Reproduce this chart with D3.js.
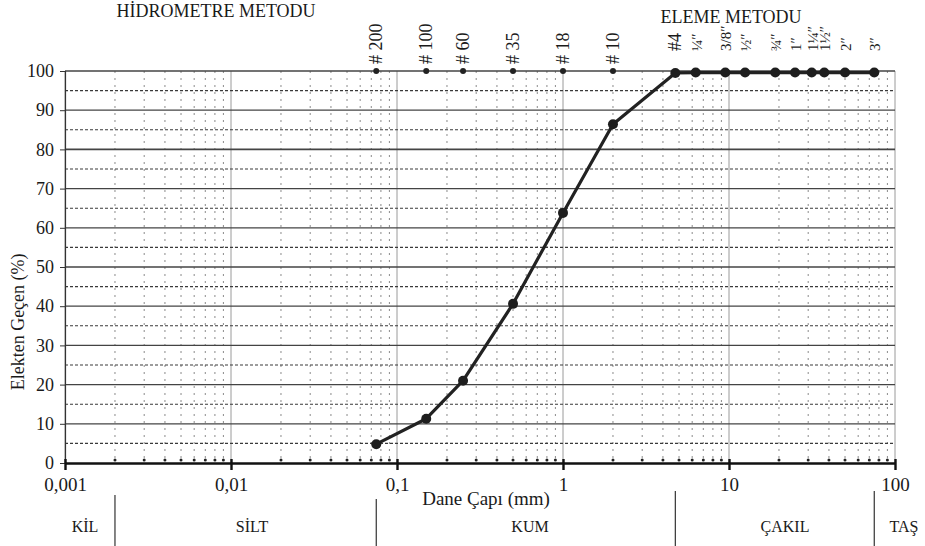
<!DOCTYPE html>
<html>
<head>
<meta charset="utf-8">
<script src="https://cdn.jsdelivr.net/npm/d3@7"></script>
<style>
  html, body { margin: 0; padding: 0; background: #fff; }
  svg { display: block; }
  svg text { font-family: "Liberation Serif", "Times New Roman", "DejaVu Serif", serif !important; fill: #1a1a1a; }
</style>
</head>
<body>
<svg id="chart" width="925" height="546"></svg>
<script>
// Sieve sizes (mm), their labels and percent passing
const sieveLabels = ["# 200", "# 100", "# 60", "# 35", "# 18", "# 10", "#4", "¼″", "3/8″", "½″", "¾″", "1″", "1¼″", "1½″", "2″", "3″"];
const sieveSizes  = [0.075, 0.15, 0.25, 0.5, 1.0, 2.0, 4.75, 6.3, 9.5, 12.5, 19, 25, 31.5, 37.5, 50, 75];
const passing     = [4.8, 11.3, 21.0, 40.6, 63.8, 86.4, 99.5, 99.6, 99.6, 99.6, 99.6, 99.6, 99.6, 99.6, 99.6, 99.6];

const xTickValues = [0.001, 0.01, 0.1, 1, 10, 100];
const xTickLabels = ["0,001", "0,01", "0,1", "1", "10", "100"];
const yTickValues = [0, 10, 20, 30, 40, 50, 60, 70, 80, 90, 100];

// Soil classes and their size limits (mm)
const soilClasses = ["KİL", "SİLT", "KUM", "ÇAKIL", "TAŞ"];
const soilLimits  = [0.001, 0.002, 0.075, 4.75, 75, 100];

const serif = '"Liberation Serif", "Times New Roman", "DejaVu Serif", serif';
const svg = d3.select("#chart").attr("font-family", serif);
const x = d3.scaleLog().domain([0.001, 100]).range([65, 895]);
const y = d3.scaleLinear().domain([0, 100]).range([463, 71]);

// minor log positions 2..9 in each decade
const minor = [];
for (let e = -3; e < 2; e++) for (let k = 2; k <= 9; k++) minor.push(k * Math.pow(10, e));

const grid = svg.append("g");
// vertical minor gridlines
grid.selectAll("line.vmin").data(minor).join("line")
  .attr("x1", d => x(d)).attr("x2", d => x(d))
  .attr("y1", y(100)).attr("y2", y(0))
  .attr("stroke", "#8a8a8a").attr("stroke-width", 1)
  .attr("stroke-dasharray", "2,5");
// vertical decade gridlines
grid.selectAll("line.vdec").data(xTickValues).join("line")
  .attr("x1", d => x(d)).attr("x2", d => x(d))
  .attr("y1", y(100)).attr("y2", y(0))
  .attr("stroke", "#9a9a9a").attr("stroke-width", 1);
// horizontal dotted lines at 5, 15, ...
grid.selectAll("line.hmin").data(d3.range(5, 100, 10)).join("line")
  .attr("x1", x(0.001)).attr("x2", x(100))
  .attr("y1", d => y(d)).attr("y2", d => y(d))
  .attr("stroke", "#3a3a3a").attr("stroke-width", 1.1)
  .attr("stroke-dasharray", "3,2");
// horizontal solid lines at 10, 20, ...
grid.selectAll("line.hmaj").data(yTickValues.slice(1)).join("line")
  .attr("x1", x(0.001)).attr("x2", x(100))
  .attr("y1", d => y(d)).attr("y2", d => y(d))
  .attr("stroke", "#444").attr("stroke-width", d => d === 80 ? 1.8 : 1.3);

// left axis
const yAxis = svg.append("g").attr("transform", `translate(${x(0.001)},0)`)
  .call(d3.axisLeft(y).tickValues(yTickValues).tickSize(5).tickPadding(6));
yAxis.attr("font-family", serif);
yAxis.select(".domain").attr("stroke", "#333").attr("stroke-width", 1.2);
yAxis.selectAll(".tick line").attr("stroke", "#333");
yAxis.selectAll("text").style("font-size", "18px").attr("fill", "#1a1a1a");

// bottom axis
const xAxis = svg.append("g").attr("transform", `translate(0,${y(0)})`)
  .call(d3.axisBottom(x).tickValues(xTickValues).tickFormat((d, i) => xTickLabels[i]).tickSize(7).tickSizeOuter(0).tickPadding(8));
xAxis.attr("font-family", serif);
xAxis.select(".domain").attr("stroke", "#111").attr("stroke-width", 2.4);
xAxis.selectAll(".tick line").attr("stroke", "#111").attr("stroke-width", 2.4).attr("y1", -4);
xAxis.selectAll("text").style("font-size", "19px").attr("fill", "#1a1a1a");

// small tick dots on the zero line
svg.append("g").selectAll("circle").data(minor).join("circle")
  .attr("cx", d => x(d)).attr("cy", y(0) - 3).attr("r", 1.5).attr("fill", "#222");

// top markers for the fine sieves
const fineIdx = d3.range(0, 6);
svg.append("g").selectAll("circle").data(fineIdx).join("circle")
  .attr("cx", i => x(sieveSizes[i])).attr("cy", y(100)).attr("r", 3).attr("fill", "#222");

// sieve labels (rotated)
svg.append("g").selectAll("text").data(sieveLabels).join("text")
  .attr("transform", (d, i) => `translate(${x(sieveSizes[i]) + 6},${i < 6 ? y(100) - 7 : y(100) - 20}) rotate(-90)`)
  .attr("text-anchor", "start")
  .style("font-size", (d, i) => i < 7 ? "18px" : "15px")
  .text(d => d);

// grading curve
const pts = sieveSizes.map((s, i) => [s, passing[i]]);
svg.append("path").datum(pts)
  .attr("fill", "none").attr("stroke", "#222").attr("stroke-width", 3.2)
  .attr("stroke-linejoin", "round")
  .attr("d", d3.line().x(d => x(d[0])).y(d => y(d[1])));
svg.append("g").selectAll("circle").data(pts).join("circle")
  .attr("cx", d => x(d[0])).attr("cy", d => y(d[1])).attr("r", 5).attr("fill", "#1e1e1e");

// titles
svg.append("text").attr("x", 216).attr("y", 17).attr("text-anchor", "middle")
  .style("font-size", "18px").text("HİDROMETRE METODU");
svg.append("text").attr("x", 731).attr("y", 23).attr("text-anchor", "middle")
  .style("font-size", "18px").text("ELEME METODU");
svg.append("text").attr("transform", `translate(24,${y(36)}) rotate(-90)`).attr("text-anchor", "middle")
  .style("font-size", "18px").text("Elekten Geçen (%)");
svg.append("text").attr("x", 486).attr("y", 505).attr("text-anchor", "middle")
  .style("font-size", "19px").text("Dane Çapı (mm)");

// soil class band
const bandY = [495, 499, 491, 491];
svg.append("g").selectAll("line").data(soilLimits.slice(1, 5)).join("line")
  .attr("x1", d => x(d)).attr("x2", d => x(d))
  .attr("y1", (d, i) => bandY[i]).attr("y2", 546)
  .attr("stroke", "#333").attr("stroke-width", 1.2);
const classX = [85, 252, 530, 785, 904];
svg.append("g").selectAll("text").data(soilClasses).join("text")
  .attr("x", (d, i) => classX[i]).attr("y", 532).attr("text-anchor", "middle")
  .style("font-size", "16px").text(d => d);
</script>
</body>
</html>
